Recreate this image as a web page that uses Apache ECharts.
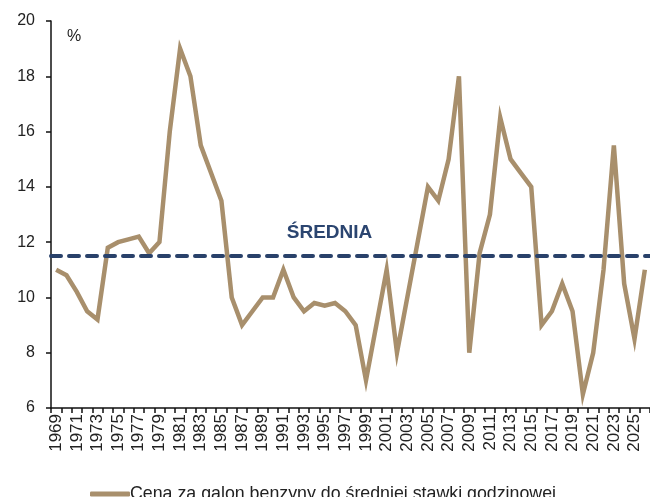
<!DOCTYPE html>
<html>
<head>
<meta charset="utf-8">
<script src="https://cdn.jsdelivr.net/npm/echarts@6/dist/echarts.min.js"></script>
<style>
  html, body { margin: 0; padding: 0; background: #ffffff; }
  #chart { width: 650px; height: 497px; }
</style>
</head>
<body>
<div id="chart"></div>
<script>
// lata 1969-2026
const years = [];
for (let y = 1969; y <= 2026; y++) years.push(String(y));

// cena galonu benzyny do sredniej stawki godzinowej, %
const ratio = [
  11.0, 10.8, 10.2, 9.5, 9.2, 11.8, 12.0, 12.1, 12.2, 11.6,
  12.0, 16.0, 19.0, 18.0, 15.5, 14.5, 13.5, 10.0, 9.0, 9.5,
  10.0, 10.0, 11.0, 10.0, 9.5, 9.8, 9.7, 9.8, 9.5, 9.0,
  7.0, 9.0, 11.0, 8.0, 10.0, 12.0, 14.0, 13.5, 15.0, 18.0,
  8.0, 11.6, 13.0, 16.5, 15.0, 14.5, 14.0, 9.0, 9.5, 10.5,
  9.5, 6.5, 8.0, 11.0, 15.5, 10.5, 8.5, 11.0
];

const average = 11.5;
const yTicks = { min: 6, max: 20, step: 2 };

const chart = echarts.init(document.getElementById('chart'));
chart.setOption({
  animation: false,
  textStyle: { fontFamily: 'Liberation Sans, Arial, sans-serif' },
  grid: { left: 51, right: -1, top: 21, bottom: 89 },
  legend: {
    left: 85,
    top: 480,
    icon: 'roundRect',
    itemWidth: 40,
    itemHeight: 5,
    textStyle: { fontSize: 17.8, color: '#222', padding: [0, 0, 0, -5] },
    data: ['Cena za galon benzyny do średniej stawki godzinowej']
  },
  graphic: [{
    type: 'text',
    left: 67,
    top: 29,
    style: { text: '%', fontSize: 16, fill: '#222', fontFamily: 'Liberation Sans, Arial, sans-serif' }
  }],
  xAxis: {
    type: 'category',
    data: years,
    boundaryGap: true,
    axisLine: { lineStyle: { color: '#111', width: 1.5 } },
    axisTick: { show: true, interval: 0, length: 5, lineStyle: { color: '#111', width: 1.5 } },
    axisLabel: { interval: 1, rotate: 90, fontSize: 17, color: '#222', margin: 6 }
  },
  yAxis: {
    type: 'value',
    min: yTicks.min,
    max: yTicks.max,
    interval: yTicks.step,
    splitLine: { show: false },
    axisLine: { show: true, lineStyle: { color: '#111', width: 1.5 } },
    axisTick: { show: true, length: 5, lineStyle: { color: '#111', width: 1.5 } },
    axisLabel: { fontSize: 16, color: '#222', margin: 16 }
  },
  series: [{
    name: 'Cena za galon benzyny do średniej stawki godzinowej',
    type: 'line',
    data: ratio,
    showSymbol: false,
    symbol: 'none',
    lineStyle: { color: '#a88f6c', width: 4.5, join: 'miter' },
    itemStyle: { color: '#a88f6c' },
    markLine: {
      silent: true,
      symbol: 'none',
      data: [{ yAxis: average }],
      lineStyle: { color: '#29416a', width: 4, type: [10, 8], cap: 'round' },
      label: {
        show: true,
        position: 'middle',
        formatter: 'ŚREDNIA',
        fontSize: 19,
        fontWeight: 'bold',
        color: '#2b4570',
        offset: [-21, -9]
      }
    }
  }]
});
</script>
</body>
</html>
